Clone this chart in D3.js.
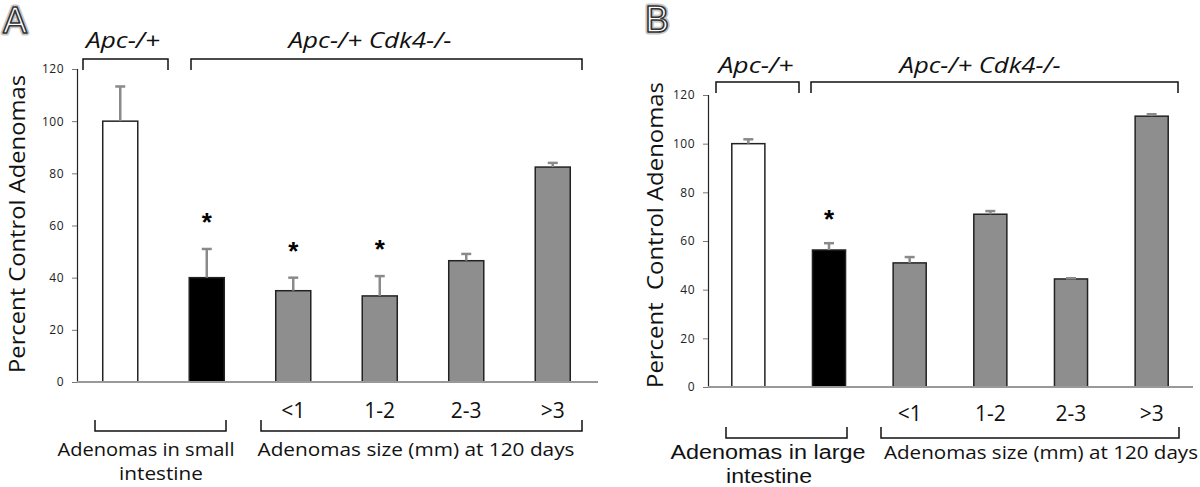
<!DOCTYPE html>
<html>
<head>
<meta charset="utf-8">
<script src="https://cdn.jsdelivr.net/npm/d3@7"></script>
<style>
  html, body { margin: 0; padding: 0; background: #fff; }
  svg { display: block; }
  text { white-space: pre; }
</style>
</head>
<body>
<svg id="chart" width="1200" height="487"></svg>
<script>
// ---------------- data ----------------
const barKeys = ["Apc-/+", "Apc-/+ Cdk4-/-", "<1", "1-2", "2-3", ">3"];
const sizeLabels = ["<1", "1-2", "2-3", ">3"];
const yTicks = [0, 20, 40, 60, 80, 100, 120];

const valuesA = [100, 40, 35, 33, 46.5, 82.4];
const errorsA = [13.3, 11, 5, 7.6, 2.6, 1.6];
const sigA = [false, true, true, true, false, false];

const valuesB = [100, 56.3, 51, 71, 44.4, 111.3];
const errorsB = [1.8, 2.8, 2.4, 1.3, 0.3, 0.8];
const sigB = [false, true, false, false, false, false];

const genotypeLabels = ["Apc-/+", "Apc-/+ Cdk4-/-"];
const yTitleA = "Percent Control Adenomas";
const yTitleB = "Percent  Control Adenomas";
const groupLabelA = ["Adenomas in small", "intestine"];
const groupLabelB = ["Adenomas in large", "intestine"];
const sizeTitle = "Adenomas size (mm) at 120 days";

// ---------------- drawing ----------------
const svg = d3.select("#chart");
const fills = ["#ffffff", "#000000", "#8e8e8e", "#8e8e8e", "#8e8e8e", "#8e8e8e"];
const HUM = "'Open Sans', 'Noto Sans', sans-serif";

function panelLetter(letter, x, y) {
  svg.append("text").attr("x", x).attr("y", y)
    .attr("font-family", "'Liberation Sans', Arial, sans-serif").attr("font-size", 36)
    .attr("fill", "none").attr("stroke", "#c8c8c8").attr("stroke-width", 5)
    .attr("stroke-linejoin", "round").text(letter);
  svg.append("text").attr("x", x).attr("y", y)
    .attr("font-family", "'Liberation Sans', Arial, sans-serif").attr("font-size", 36)
    .attr("fill", "#ffffff").attr("stroke", "#333").attr("stroke-width", 1.6)
    .attr("stroke-linejoin", "round").text(letter);
}

function drawPanel(cfg) {
  const g = svg.append("g");
  const y = d3.scaleLinear().domain([0, 120]).range([cfg.y0, cfg.y120]);
  const x = d3.scaleBand().domain(barKeys).range([cfg.xAxis, cfg.xEnd])
    .paddingInner(cfg.pad).paddingOuter(cfg.pad / 2);

  // y axis
  const axis = d3.axisLeft(y).tickValues(yTicks).tickSize(5).tickPadding(cfg.tickPad);
  const ag = g.append("g").attr("transform", `translate(${cfg.xAxis},0)`).call(axis);
  ag.select(".domain").attr("stroke", "#222").attr("stroke-width", 1.2);
  ag.selectAll(".tick line").attr("stroke", "#777");
  ag.selectAll(".tick text").attr("font-family", HUM).attr("font-size", cfg.tickFont)
    .attr("fill", "#222").attr("letter-spacing", 0.5);

  // bars
  g.selectAll("rect.bar").data(barKeys).join("rect").attr("class", "bar")
    .attr("x", d => x(d)).attr("width", x.bandwidth())
    .attr("y", (d, i) => y(cfg.values[i]))
    .attr("height", (d, i) => y(0) - y(cfg.values[i]))
    .attr("fill", (d, i) => fills[i]).attr("stroke", "#222").attr("stroke-width", 1.5);

  // error bars (upper only)
  const eb = g.selectAll("g.err").data(barKeys).join("g").attr("class", "err");
  eb.append("line")
    .attr("x1", d => x(d) + x.bandwidth() / 2).attr("x2", d => x(d) + x.bandwidth() / 2)
    .attr("y1", (d, i) => y(cfg.values[i])).attr("y2", (d, i) => y(cfg.values[i] + cfg.errors[i]))
    .attr("stroke", "#8a8a8a").attr("stroke-width", 2.5);
  eb.append("line")
    .attr("x1", d => x(d) + x.bandwidth() / 2 - 5).attr("x2", d => x(d) + x.bandwidth() / 2 + 5)
    .attr("y1", (d, i) => y(cfg.values[i] + cfg.errors[i])).attr("y2", (d, i) => y(cfg.values[i] + cfg.errors[i]))
    .attr("stroke", "#8a8a8a").attr("stroke-width", 2.5);

  // baseline
  g.append("line").attr("x1", cfg.xAxis).attr("x2", cfg.baseEnd)
    .attr("y1", y(0)).attr("y2", y(0)).attr("stroke", "#999").attr("stroke-width", 2);

  // significance asterisks
  g.selectAll("text.sig").data(barKeys.filter((d, i) => cfg.sig[i])).join("text").attr("class", "sig")
    .attr("x", d => x(d) + x.bandwidth() / 2)
    .attr("y", d => { const i = barKeys.indexOf(d); return y(cfg.values[i] + cfg.errors[i]) - cfg.starGap; })
    .attr("text-anchor", "middle").attr("font-family", "'Liberation Sans', Arial, sans-serif")
    .attr("font-size", 26).attr("font-weight", "bold").attr("fill", "#000").text("*");

  // size labels under bars
  g.selectAll("text.size").data(sizeLabels).join("text").attr("class", "size")
    .attr("x", d => x(d) + x.bandwidth() / 2).attr("y", cfg.sizeY)
    .attr("text-anchor", "middle").attr("font-family", HUM).attr("font-size", cfg.sizeFont)
    .attr("fill", "#111").text(d => d);

  // y title
  g.append("text").attr("transform", `translate(${cfg.titleX},${cfg.titleY}) rotate(-90)`)
    .attr("text-anchor", "middle").attr("font-family", HUM).attr("font-size", cfg.titleFont)
    .attr("textLength", cfg.titleLen).attr("lengthAdjust", "spacingAndGlyphs")
    .attr("fill", "#111").text(cfg.title);

  // top brackets + genotype labels
  cfg.topBrackets.forEach((b, i) => {
    g.append("path").attr("d", `M${b[0]},${cfg.topY + 11}V${cfg.topY}H${b[1]}V${cfg.topY + 11}`)
      .attr("fill", "none").attr("stroke", "#111").attr("stroke-width", 1.5);
    g.append("text").attr("x", cfg.topTextX[i]).attr("y", cfg.topTextY)
      .attr("text-anchor", "middle").attr("font-family", HUM).attr("font-style", "italic")
      .attr("font-size", cfg.topFont).attr("textLength", cfg.topTextLen[i]).attr("lengthAdjust", "spacingAndGlyphs")
      .attr("fill", "#111").text(genotypeLabels[i]);
  });

  // bottom brackets
  cfg.botBrackets.forEach(b => {
    g.append("path").attr("d", `M${b[0]},${cfg.botY - 11}V${cfg.botY}H${b[1]}V${cfg.botY - 11}`)
      .attr("fill", "none").attr("stroke", "#111").attr("stroke-width", 1.5);
  });
  // bottom group labels
  cfg.groupLabel.forEach((t, i) => {
    g.append("text").attr("x", cfg.groupX[i]).attr("y", cfg.groupY[i])
      .attr("text-anchor", "middle").attr("font-family", cfg.groupFamily).attr("font-size", cfg.groupFont)
      .attr("textLength", cfg.groupLen[i]).attr("lengthAdjust", "spacingAndGlyphs")
      .attr("fill", "#111").text(t);
  });
  g.append("text").attr("x", cfg.sizeTitleX).attr("y", cfg.groupY[0])
    .attr("text-anchor", "middle").attr("font-family", HUM).attr("font-size", cfg.sizeTitleFont)
    .attr("textLength", cfg.sizeTitleLen).attr("lengthAdjust", "spacingAndGlyphs")
    .attr("fill", "#111").text(sizeTitle);
}

panelLetter("A", 3, 33);
panelLetter("B", 645, 32);

drawPanel({
  values: valuesA, errors: errorsA, sig: sigA, title: yTitleA, groupLabel: groupLabelA,
  y0: 382, y120: 69, xAxis: 77, xEnd: 596, baseEnd: 598, pad: 0.595,
  tickPad: 8, tickFont: 12, starGap: 18,
  sizeY: 418, sizeFont: 21,
  titleX: 25, titleY: 224, titleFont: 22, titleLen: 298,
  topY: 59, topBrackets: [[83, 168], [191, 582]], topTextX: [123, 370], topTextY: 48,
  topTextLen: [74, 163], topFont: 22,
  botY: 431, botBrackets: [[95, 226], [261, 582]],
  groupX: [146, 161], groupY: [456, 480], groupLen: [177, 84], groupFont: 19, groupFamily: HUM,
  sizeTitleX: 416, sizeTitleLen: 317, sizeTitleFont: 19
});

drawPanel({
  values: valuesB, errors: errorsB, sig: sigB, title: yTitleB, groupLabel: groupLabelB,
  y0: 387, y120: 95, xAxis: 708, xEnd: 1192, baseEnd: 1193, pad: 0.59,
  tickPad: 8, tickFont: 12, starGap: 15,
  sizeY: 421, sizeFont: 21,
  titleX: 663, titleY: 235, titleFont: 22, titleLen: 306,
  topY: 82, topBrackets: [[716, 799], [811, 1178]], topTextX: [756, 980], topTextY: 73,
  topTextLen: [75, 161], topFont: 22,
  botY: 438, botBrackets: [[726, 847], [881, 1179]],
  groupX: [768, 769], groupY: [459, 483], groupLen: [195, 86], groupFont: 20,
  groupFamily: "'Liberation Sans', Arial, sans-serif",
  sizeTitleX: 1041, sizeTitleLen: 314, sizeTitleFont: 19
});
</script>
</body>
</html>
